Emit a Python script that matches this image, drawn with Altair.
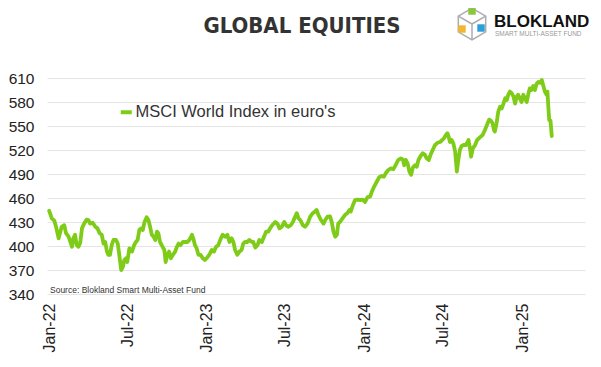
import altair as alt
import pandas as pd

# ---- data ----
# days since 2022-01-01 and index level (MSCI World in EUR)
days_2022 = [0, 2, 6, 12, 16, 22, 25, 29, 35, 39,
             45, 53, 56, 60, 64, 68, 72, 76, 81, 87,
             91, 95, 101, 107, 112, 117, 122, 126, 130, 134,
             137, 141, 145, 149, 155, 159, 163, 167, 171, 174,
             178, 181, 186, 192, 197, 201, 205, 209, 213, 217,
             221, 226, 230, 234, 238, 242, 246, 250, 253, 257,
             263, 267, 270, 274, 278, 282, 287, 292, 296, 300,
             304, 310, 315, 320, 325, 331, 334, 338, 342, 346]
vals_2022 = [444, 441, 434.6, 431.6, 424, 409.6, 416, 424, 426, 416,
             411.6, 399, 409.6, 414, 401, 399, 404, 422, 428, 433,
             432.5, 428, 429, 424, 422, 416, 414, 403, 405, 393,
             389, 389, 401, 407.5, 407.5, 403, 387, 370, 374, 382.5,
             384.6, 380, 397, 393, 401, 405, 407.5, 420, 422, 420,
             430, 436, 432.5, 424, 414, 411.6, 407.5, 418, 416, 405,
             399, 395, 380, 389, 393, 384.6, 389, 393, 399, 403,
             401, 405, 405, 405, 407.5, 414, 409.6, 401, 397, 389]

days_2023 = [351, 356, 361, 367, 371, 377, 382, 387, 392, 398,
             402, 408, 413, 418, 423, 427, 431, 436, 441, 446,
             450, 454, 459, 464, 470, 473, 478, 483, 487, 493,
             498, 503, 508, 512, 517, 524, 529, 534, 539, 545,
             549, 554, 560, 565, 570, 574, 578, 582, 588, 593,
             599, 605, 611, 616, 620, 624, 630, 636, 640, 645,
             651]
vals_2023 = [389, 384.6, 382.5, 386, 389, 395, 393, 399, 401, 409.6,
             414, 411.6, 414, 405, 409.6, 405, 395, 389, 393, 395,
             403, 405, 405, 407.5, 405, 405, 398, 401, 407.5, 405,
             411.6, 418, 418, 422, 426, 430, 428, 422, 424, 430,
             426, 424, 426, 430, 436.6, 441, 434.6, 432.5, 426, 424,
             428, 436.6, 441, 443, 445, 439, 432.5, 428, 432.5, 436.6,
             437]

days_2024a = [655, 659, 663, 667, 670, 674, 680, 686, 691, 696,
              699, 704, 709, 714, 721, 727, 732, 738, 744, 748,
              753, 759, 765, 771, 776, 781, 786, 792, 798, 803,
              809, 815, 820, 823, 827, 831, 835, 839, 843, 848,
              852, 856, 861, 866, 871, 875, 880, 884, 889, 894,
              900, 906]
vals_2024a = [430, 418, 411.6, 414, 428, 430, 434.6, 439, 441, 445,
              443, 451, 457.5, 458, 457.5, 458, 455, 461, 461.6, 468,
              474, 480, 486, 487.5, 486.6, 491.6, 495, 497, 496, 501,
              507.5, 509.6, 508, 501, 507.5, 503, 493, 489, 498, 501,
              499, 507.5, 512.5, 516, 514, 509.6, 507.5, 514, 520, 526,
              529, 530]

days_2024b = [911, 915, 920, 923, 926, 929, 933, 937, 941, 945,
              948, 952, 956, 962, 966, 972, 976, 978, 982, 987,
              992, 999, 1005, 1010, 1016, 1020, 1024, 1028, 1031, 1033,
              1037, 1041, 1045, 1049, 1053, 1057, 1061, 1064, 1068, 1072,
              1076, 1080, 1084, 1087, 1091, 1095, 1099, 1103, 1107, 1111,
              1114, 1118, 1122, 1126, 1130, 1134, 1138, 1142, 1145, 1149,
              1153, 1155, 1157, 1159, 1162, 1165]
vals_2024b = [532.5, 534.6, 539, 541, 536.6, 530, 532.5, 528, 518, 493,
              506, 520, 525, 526.5, 526, 532.5, 520, 511.6, 522, 526,
              532.5, 536, 539, 545, 553, 558, 556.6, 553, 545, 543,
              553, 568, 574, 572, 578, 584.6, 582.5, 589, 593, 591,
              587, 578, 587, 589, 584.6, 580, 589, 584.6, 580, 591,
              597, 595, 600, 595, 603, 605, 604, 607.5, 601, 593,
              589, 593, 574, 557.5, 556.6, 537.5]

series_name = "MSCI World Index in euro's"
y_ticks = [340, 370, 400, 430, 460, 490, 520, 550, 580, 610]
x_tick_months = [(2022, 1), (2022, 7), (2023, 1), (2023, 7), (2024, 1), (2024, 7), (2025, 1)]
title_text = "GLOBAL EQUITIES"
source_text = "Source: Blokland Smart Multi-Asset Fund"

days = days_2022 + days_2023 + days_2024a + days_2024b
vals = vals_2022 + vals_2023 + vals_2024a + vals_2024b
assert len(days) == len(vals)

start = pd.Timestamp("2022-01-01")
df = pd.DataFrame({
    "date": start + pd.to_timedelta(days, unit="D"),
    "value": vals,
    "series": series_name,
})

GREEN = "#7fcc18"
FONT = "Liberation Sans"

x_values = [alt.DateTime(year=y, month=m, date=1) for y, m in x_tick_months]

line = alt.Chart(df).mark_line(strokeWidth=3.8, strokeJoin="round", strokeCap="round").encode(
    x=alt.X(
        "date:T",
        scale=alt.Scale(domain=[alt.DateTime(year=2021, month=12, date=27),
                                alt.DateTime(year=2025, month=5, date=27)]),
        axis=alt.Axis(values=x_values, format="%b-%y", labelAngle=-90, labelFontSize=16,
                      labelFont=FONT, labelColor="#222", labelPadding=9, labelFlush=False,
                      labelOverlap=False, grid=False, domain=False, ticks=False, title=None),
    ),
    y=alt.Y(
        "value:Q",
        scale=alt.Scale(domain=[340, 610], nice=False, zero=False),
        axis=alt.Axis(values=y_ticks, labelFontSize=15.5, labelFont=FONT, labelColor="#222",
                      labelPadding=13, grid=True, gridColor="#e4e4e4", gridWidth=1,
                      domain=False, ticks=False, title=None),
    ),
    color=alt.Color(
        "series:N",
        scale=alt.Scale(range=[GREEN]),
        legend=alt.Legend(orient="none", legendX=71, legendY=26, title=None,
                          symbolType="stroke", symbolSize=121, symbolStrokeWidth=4,
                          symbolStrokeColor=GREEN, labelFontSize=16.5, labelFont=FONT,
                          labelColor="#333", labelOffset=1, labelLimit=0, padding=0),
    ),
)

one = pd.DataFrame({"k": [0]})


def label(text, x, y, size, color, weight="normal", font=FONT, align="left"):
    return alt.Chart(one).mark_text(
        text=text, fontSize=size, font=font, fontWeight=weight, color=color,
        align=align, baseline="middle",
    ).encode(x=alt.value(x), y=alt.value(y))


title = label(title_text, 255, -52, 22, "#333", weight="bold",
              font="DejaVu Sans Condensed, sans-serif", align="center")
source = label(source_text, 3, 212, 8.5, "#333")
brand = label("BLOKLAND", 447, -56, 17, "#111", weight="bold")
brand_sub = label("SMART MULTI-ASSET FUND", 448, -44, 6.5, "#999")

hex_path = ("M0,-1 L0.866,-0.5 L0.866,0.5 L0,1 L-0.866,0.5 L-0.866,-0.5 Z "
            "M0,0 L0,1 M0,0 L0.866,-0.5 M0,0 L-0.866,-0.5")
cube = alt.Chart(one).mark_point(shape=hex_path, filled=False, size=1000,
                                 stroke="#8a8a8a", strokeWidth=1.5).encode(
    x=alt.value(425), y=alt.value(-54))
sq_green = alt.Chart(one).mark_point(shape="square", filled=True, size=55,
                                     color="#8cc63f", opacity=1).encode(
    x=alt.value(425), y=alt.value(-67))
sq_yellow = alt.Chart(one).mark_point(shape="square", filled=True, size=55,
                                      color="#f2b632", opacity=1).encode(
    x=alt.value(415), y=alt.value(-49))
sq_blue = alt.Chart(one).mark_point(shape="square", filled=True, size=55,
                                    color="#2b9fd8", opacity=1).encode(
    x=alt.value(434), y=alt.value(-50))

chart = alt.layer(line, source, title, brand, brand_sub, cube, sq_green, sq_yellow, sq_blue).properties(
    width=538,
    height=216,
    autosize=alt.AutoSizeParams(type="none"),
    padding={"left": 39, "top": 70, "right": 8, "bottom": 65},
    background="white",
).configure_view(stroke=None)

chart.save("out.html", embed_options={"renderer": "svg", "actions": False})
